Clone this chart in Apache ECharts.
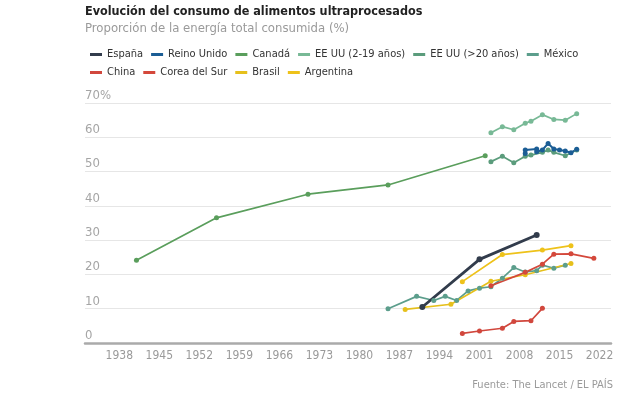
<!DOCTYPE html>
<html>
<head>
<meta charset="utf-8">
<script src="https://cdn.jsdelivr.net/npm/echarts@6/dist/echarts.min.js"></script>
<style>
  html, body { margin: 0; padding: 0; background: #fff; }
  #chart { width: 630px; height: 398px; }
</style>
</head>
<body>
<div id="chart"></div>
<script>
// tick labels
const xTicks = [1938, 1945, 1952, 1959, 1966, 1973, 1980, 1987, 1994, 2001, 2008, 2015, 2022]

// series: [year, % of total energy]
const espana = [[1991, 10.5], [2001, 24.4], [2011, 31.5]]
const reinoUnido = [[2009, 55.3], [2009, 56.3], [2011, 56.6], [2011, 55.8], [2012, 56.3], [2013, 58.2], [2014, 56.6], [2015, 56.3], [2016, 56.0], [2017, 55.5], [2018, 56.5]]
const canada = [[1941, 24.1], [1955, 36.5], [1971, 43.4], [1985, 46.1], [2002, 54.6]]
const eeuuNinos = [[2003, 61.3], [2005, 63.1], [2007, 62.2], [2009, 64.1], [2010, 64.7], [2012, 66.6], [2014, 65.2], [2016, 65.0], [2018, 66.9]]
const eeuuAdultos = [[2003, 52.9], [2005, 54.5], [2007, 52.6], [2009, 54.5], [2010, 54.8], [2012, 55.6], [2013, 56.3], [2014, 55.6], [2016, 54.6], [2018, 56.3]]
const mexico = [[1985, 10.0], [1990, 13.6], [1993, 12.4], [1995, 13.6], [1997, 12.4], [1999, 15.2], [2001, 16.0], [2003, 16.4], [2005, 18.9], [2007, 22.0], [2009, 20.7], [2011, 21.1], [2012, 22.7], [2014, 21.8], [2016, 22.7]]
const china = [[1998, 2.8], [2001, 3.5], [2005, 4.3], [2007, 6.3], [2010, 6.5], [2012, 10.1]]
const corea = [[2003, 16.7], [2009, 20.6], [2012, 23.0], [2014, 25.9], [2017, 26.0], [2021, 24.7]]
const brasil = [[1988, 9.8], [1996, 11.3], [2003, 18.0], [2009, 19.9], [2017, 23.2]]
const argentina = [[1998, 17.9], [2005, 25.8], [2012, 27.1], [2017, 28.4]]

const FONT = '"DejaVu Sans Condensed", "Liberation Sans Narrow", "Roboto", sans-serif'

function line (name, data, color, width) {
  return {
    name: name,
    type: 'line',
    data: data,
    symbol: 'circle',
    symbolSize: width > 2 ? 6 : 5,
    showSymbol: true,
    lineStyle: { color: color, width: width },
    itemStyle: { color: color },
    emphasis: { disabled: true },
    animation: false
  }
}

const legendText = { color: '#333', fontSize: 11, fontFamily: FONT }

const option = {
  animation: false,
  title: {
    text: 'Evolución del consumo de alimentos ultraprocesados',
    subtext: 'Proporción de la energía total consumida (%)',
    left: 80,
    top: 0,
    itemGap: 4,
    textStyle: { fontFamily: FONT, fontSize: 12.5, fontWeight: 'bold', color: '#222' },
    subtextStyle: { fontFamily: FONT, fontSize: 13, color: '#9a9a9a' }
  },
  legend: [{
    left: 85,
    top: 44,
    width: 545,
    icon: 'rect',
    itemWidth: 12,
    itemHeight: 3,
    itemGap: 8,
    textStyle: legendText,
    data: ['España', 'Reino Unido', 'Canadá', 'EE UU (2-19 años)', 'EE UU (>20 años)', 'México']
  }, {
    left: 85,
    top: 62,
    width: 545,
    icon: 'rect',
    itemWidth: 12,
    itemHeight: 3,
    itemGap: 8,
    textStyle: legendText,
    data: ['China', 'Corea del Sur', 'Brasil', 'Argentina']
  }],
  graphic: [{
    type: 'text',
    right: 17,
    top: 380,
    style: { text: 'Fuente: The Lancet / EL PAÍS', fill: '#9a9a9a', font: '11px ' + FONT }
  }],
  grid: { left: 85, right: 19, top: 103, bottom: 55 },
  xAxis: {
    type: 'value',
    min: 1932,
    max: 2024,
    axisLine: { show: true, lineStyle: { color: '#aaa', width: 2.5 } },
    axisTick: { show: false },
    splitLine: { show: false },
    axisLabel: {
      customValues: xTicks,
      formatter: v => String(v),
      color: '#9a9a9a',
      fontSize: 12,
      fontFamily: FONT,
      margin: 7
    }
  },
  yAxis: {
    type: 'value',
    min: 0,
    max: 70,
    interval: 10,
    axisLine: { show: false },
    axisTick: { show: false },
    splitLine: { lineStyle: { color: '#e6e6e6', width: 1 } },
    axisLabel: {
      inside: true,
      margin: 0,
      verticalAlign: 'bottom',
      padding: [0, 0, 1, 0],
      color: '#a5a5a5',
      fontSize: 13,
      fontFamily: FONT,
      formatter: v => v === 70 ? '70%' : String(v)
    }
  },
  series: [
    line('Canadá', canada, '#5a9e5c', 1.7),
    line('EE UU (2-19 años)', eeuuNinos, '#78b996', 1.7),
    line('EE UU (>20 años)', eeuuAdultos, '#5b9c7c', 1.7),
    line('Reino Unido', reinoUnido, '#1b5d95', 2),
    line('México', mexico, '#5c9e8c', 1.7),
    line('Brasil', brasil, '#e6c01c', 1.7),
    line('Argentina', argentina, '#eec21a', 1.7),
    line('China', china, '#d1473d', 1.7),
    line('Corea del Sur', corea, '#d4483b', 1.7),
    line('España', espana, '#323c4c', 2.8)
  ]
}

const chart = echarts.init(document.getElementById('chart'))
chart.setOption(option)
</script>
</body>
</html>
